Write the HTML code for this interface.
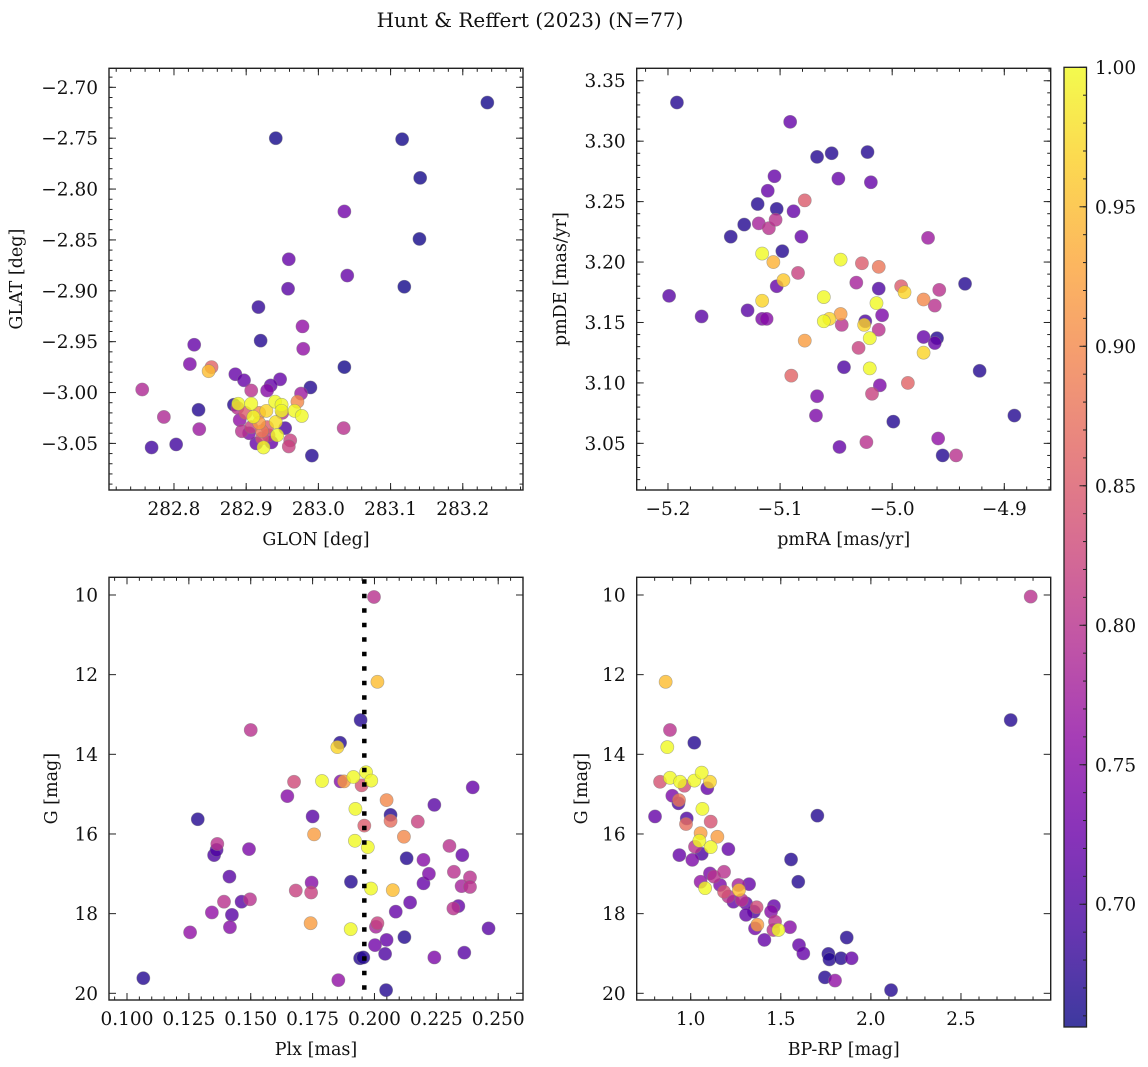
<!DOCTYPE html>
<html><head><meta charset="utf-8"><style>
html,body{margin:0;padding:0;background:#fff;}
svg{display:block;font-family:"DejaVu Serif","Liberation Serif",serif;}
</style></head><body>
<svg id="fig" width="1148" height="1067" viewBox="0 0 1148 1067" xmlns="http://www.w3.org/2000/svg">
<defs>
<linearGradient id="cbgrad" x1="0" y1="1" x2="0" y2="0">
<stop offset="0" stop-color="#0d0887"/><stop offset="0.1" stop-color="#41049d"/><stop offset="0.2" stop-color="#6a00a8"/><stop offset="0.3" stop-color="#8f0da4"/><stop offset="0.4" stop-color="#b12a90"/><stop offset="0.5" stop-color="#cc4778"/><stop offset="0.6" stop-color="#e16462"/><stop offset="0.7" stop-color="#f2844b"/><stop offset="0.8" stop-color="#fca636"/><stop offset="0.9" stop-color="#fcce25"/><stop offset="1" stop-color="#f0f921"/>
</linearGradient>
</defs>
<text x="530" y="27" font-size="20" text-anchor="middle" fill="#111">Hunt &amp; Reffert (2023) (N=77)</text>
</svg>
<script>
// ---- Panel 1: GLON vs GLAT ----
const p1Glon=[283.234,282.941,283.116,283.141,283.036,283.140,282.959,283.040,283.119,282.958,282.917,282.920,282.978,282.979,282.828,282.822,282.852,282.848,283.036,282.756,282.834,282.786,282.835,282.769,282.803,283.035,282.991,282.989,282.885,282.897,282.947,282.934,282.907,282.929,282.976,282.971,282.883,282.889,282.907,282.940,282.949,282.949,282.928,282.967,282.977,282.910,282.888,282.891,282.918,282.941,282.907,282.954,282.922,282.904,282.943,282.961,282.959,282.924,282.914,282.935,282.922,282.931,282.899,282.918,282.929,282.950,282.894];
const p1Glat=[-2.715,-2.750,-2.751,-2.789,-2.822,-2.849,-2.869,-2.885,-2.896,-2.898,-2.916,-2.949,-2.935,-2.957,-2.953,-2.972,-2.975,-2.979,-2.975,-2.997,-3.017,-3.024,-3.036,-3.054,-3.051,-3.035,-3.062,-2.995,-2.982,-2.988,-2.987,-2.993,-2.998,-2.998,-3.001,-3.009,-3.012,-3.011,-3.011,-3.009,-3.012,-3.018,-3.018,-3.018,-3.023,-3.024,-3.015,-3.027,-3.030,-3.029,-3.034,-3.035,-3.038,-3.040,-3.042,-3.047,-3.053,-3.054,-3.050,-3.049,-3.045,-3.042,-3.020,-3.020,-3.034,-3.020,-3.038];
const p1Prob=[0.66,0.66,0.66,0.66,0.73,0.66,0.72,0.72,0.66,0.71,0.68,0.67,0.76,0.76,0.72,0.74,0.86,0.95,0.66,0.79,0.67,0.79,0.77,0.69,0.69,0.80,0.67,0.67,0.72,0.72,0.72,0.72,0.80,0.75,0.77,0.90,0.67,1.0,1.0,1.0,1.0,1.0,0.97,1.0,1.0,1.0,0.80,0.76,0.92,0.98,0.82,0.70,0.88,0.74,1.0,0.82,0.82,1.0,0.72,0.72,0.84,0.80,0.85,0.90,0.85,0.80,0.80];
const p1XTicks=[282.8,282.9,283.0,283.1,283.2];
const p1XTickLabels=["282.8","282.9","283.0","283.1","283.2"];
const p1YTicks=[-2.70,-2.75,-2.80,-2.85,-2.90,-2.95,-3.00,-3.05];
const p1YTickLabels=["−2.70","−2.75","−2.80","−2.85","−2.90","−2.95","−3.00","−3.05"];

// ---- Panel 2: pmRA vs pmDE ----
const p2PmRA=[-5.192,-5.091,-5.067,-5.054,-5.022,-5.048,-5.019,-5.105,-5.111,-5.120,-5.103,-5.088,-5.078,-5.132,-5.144,-5.119,-5.110,-5.104,-5.081,-4.968,-5.098,-5.116,-5.106,-5.046,-5.027,-5.012,-5.084,-5.097,-5.103,-5.032,-5.012,-4.992,-4.989,-4.958,-4.935,-5.199,-5.170,-5.129,-5.116,-5.116,-5.112,-5.061,-5.061,-5.056,-5.046,-5.045,-5.014,-5.009,-5.024,-5.025,-5.012,-5.020,-4.972,-4.962,-4.972,-4.962,-4.960,-4.972,-5.078,-5.030,-5.043,-5.020,-4.922,-5.090,-4.986,-5.011,-5.018,-5.067,-5.068,-4.999,-4.891,-5.023,-5.047,-4.959,-4.955,-4.943];
const p2PmDE=[3.332,3.316,3.287,3.290,3.291,3.269,3.266,3.271,3.259,3.248,3.244,3.242,3.251,3.231,3.221,3.232,3.228,3.235,3.221,3.220,3.209,3.207,3.200,3.202,3.199,3.196,3.191,3.185,3.180,3.183,3.178,3.180,3.175,3.177,3.182,3.172,3.155,3.160,3.168,3.153,3.153,3.171,3.151,3.153,3.157,3.148,3.166,3.156,3.151,3.148,3.144,3.137,3.169,3.164,3.138,3.133,3.137,3.125,3.135,3.129,3.113,3.112,3.110,3.106,3.100,3.098,3.091,3.089,3.073,3.068,3.073,3.051,3.047,3.054,3.040,3.040];
const p2Prob=[0.67,0.72,0.67,0.67,0.67,0.72,0.72,0.72,0.72,0.67,0.67,0.72,0.85,0.67,0.67,0.78,0.80,0.80,0.72,0.77,0.67,1.0,0.94,1.0,0.85,0.88,0.82,0.96,0.72,0.78,0.70,0.85,0.97,0.80,0.67,0.71,0.71,0.71,0.97,0.74,0.75,1.0,1.0,0.97,0.92,0.80,1.0,0.74,0.70,0.97,0.80,1.0,0.90,0.80,0.72,0.72,0.67,0.97,0.92,0.82,0.70,1.0,0.67,0.86,0.86,0.74,0.82,0.74,0.74,0.67,0.67,0.80,0.72,0.76,0.67,0.80];
const p2XTicks=[-5.2,-5.1,-5.0,-4.9];
const p2XTickLabels=["−5.2","−5.1","−5.0","−4.9"];
const p2YTicks=[3.35,3.30,3.25,3.20,3.15,3.10,3.05];
const p2YTickLabels=["3.35","3.30","3.25","3.20","3.15","3.10","3.05"];

// ---- Panel 3: Plx vs G ----
const p3Plx=[0.1066,0.1255,0.1286,0.1352,0.1362,0.1365,0.1414,0.1343,0.1392,0.1424,0.1416,0.1463,0.1497,0.1493,0.1500,0.1648,0.1675,0.1682,0.1744,0.1746,0.1750,0.1756,0.1742,0.1788,0.1850,0.1861,0.1854,0.1863,0.1877,0.1905,0.1904,0.1915,0.1923,0.1921,0.1944,0.1948,0.1959,0.1966,0.1973,0.1987,0.1986,0.1998,0.2012,0.1942,0.1955,0.2002,0.2006,0.2012,0.2043,0.2047,0.2049,0.2049,0.2065,0.2065,0.2074,0.2086,0.2119,0.2121,0.2130,0.2144,0.2175,0.2198,0.2198,0.2220,0.2242,0.2242,0.2303,0.2321,0.2319,0.2339,0.2355,0.2352,0.2363,0.2386,0.2386,0.2397,0.2461];
const p3G=[19.62,18.47,15.63,16.53,16.40,16.25,17.07,17.97,17.70,18.03,18.34,17.70,17.64,16.38,13.39,15.05,14.69,17.42,17.47,17.22,15.56,16.01,18.24,14.67,13.82,13.71,19.67,14.68,14.68,17.20,18.39,14.57,15.37,16.17,13.14,14.78,15.79,14.45,16.33,14.66,17.37,10.05,12.18,19.12,19.10,18.79,18.33,18.24,19.01,19.92,18.66,15.15,15.52,15.67,17.41,17.95,16.07,18.59,16.61,17.72,15.69,16.65,17.24,17.00,15.27,19.10,16.30,16.95,17.87,17.81,16.53,17.31,18.98,17.09,17.33,14.83,18.37];
const p3Prob=[0.67,0.76,0.67,0.70,0.70,0.80,0.71,0.76,0.80,0.71,0.75,0.71,0.80,0.74,0.80,0.75,0.83,0.82,0.82,0.75,0.71,0.92,0.92,1.0,0.97,0.67,0.76,0.75,0.92,0.67,1.0,1.0,1.0,1.0,0.67,0.84,0.85,1.0,1.0,1.0,1.0,0.80,0.95,0.67,0.67,0.73,0.78,0.82,0.70,0.67,0.72,0.90,0.67,0.87,0.95,0.72,0.90,0.67,0.67,0.72,0.82,0.75,0.72,0.74,0.71,0.74,0.80,0.80,0.80,0.72,0.72,0.78,0.71,0.80,0.80,0.72,0.71];
const p3MeanPlx=[0.1959];
const p3XTicks=[0.100,0.125,0.150,0.175,0.200,0.225,0.250];
const p3XTickLabels=["0.100","0.125","0.150","0.175","0.200","0.225","0.250"];
const gTicks=[10,12,14,16,18,20];
const gTickLabels=["10","12","14","16","18","20"];

// ---- Panel 4: BP-RP vs G ----
const p4BpRp=[2.887,2.776,0.861,0.885,0.870,1.020,0.830,0.885,0.941,0.965,1.020,1.061,1.107,1.092,0.898,0.932,0.935,0.802,0.978,0.974,1.065,1.111,1.055,1.148,1.048,1.111,1.024,1.061,0.937,1.009,1.209,1.557,1.703,1.597,1.055,1.080,1.107,1.129,1.185,1.163,1.185,1.209,1.237,1.265,1.268,1.283,1.307,1.324,1.307,1.351,1.366,1.357,1.370,1.409,1.446,1.462,1.468,1.459,1.487,1.551,1.601,1.625,1.764,1.770,1.834,1.893,1.866,1.745,1.801,2.112];
const p4G=[10.04,13.14,12.18,13.39,13.82,13.71,14.69,14.59,14.69,14.79,14.66,14.46,14.69,14.85,15.04,15.23,15.15,15.56,15.61,15.75,15.37,15.69,15.98,16.07,16.17,16.33,16.32,16.50,16.53,16.65,16.38,16.64,15.54,17.20,17.20,17.36,16.99,17.07,16.95,17.28,17.45,17.57,17.70,17.28,17.41,17.66,17.74,17.26,18.03,17.95,17.84,18.37,18.28,18.66,17.95,17.81,18.20,18.41,18.41,18.34,18.79,19.00,19.01,19.15,19.12,19.12,18.60,19.60,19.68,19.92];
const p4Prob=[0.80,0.67,0.95,0.80,1.0,0.67,0.84,1.0,1.0,0.83,1.0,1.0,0.97,0.72,0.74,0.70,0.88,0.72,0.70,0.87,1.0,0.84,0.92,0.92,1.0,1.0,0.80,0.70,0.72,0.74,0.72,0.67,0.67,0.67,0.76,1.0,0.74,0.80,0.80,0.74,0.84,0.80,0.72,0.78,0.95,0.80,0.72,0.72,0.72,0.70,0.83,0.73,0.92,0.72,0.75,0.72,0.80,0.80,1.0,0.75,0.72,0.72,0.67,0.67,0.67,0.72,0.67,0.67,0.76,0.67];
const p4XTicks=[1.0,1.5,2.0,2.5];
const p4XTickLabels=["1.0","1.5","2.0","2.5"];

// ---- Colorbar ----
const cbTicks=[0.70,0.75,0.80,0.85,0.90,0.95,1.00];
const cbTickLabels=["0.70","0.75","0.80","0.85","0.90","0.95","1.00"];
const cbRange=[0.656,1.0];

const NS="http://www.w3.org/2000/svg";
const svg=document.getElementById('fig');
function mk(tag,attrs,parent){const e=document.createElementNS(NS,tag);for(const k in attrs)e.setAttribute(k,attrs[k]);(parent||svg).appendChild(e);return e;}

const stops=[[0,[13,8,135]],[0.1,[65,4,157]],[0.2,[106,0,168]],[0.3,[143,13,164]],[0.4,[177,42,144]],[0.5,[204,71,120]],[0.6,[225,100,98]],[0.7,[242,132,75]],[0.8,[252,166,54]],[0.9,[252,206,37]],[1,[240,249,33]]];
function plasma(t){t=Math.max(0,Math.min(1,t));for(let i=1;i<stops.length;i++){if(t<=stops[i][0]){const a=stops[i-1],b=stops[i];const f=(t-a[0])/(b[0]-a[0]);const c=a[1].map((v,j)=>Math.round(v+(b[1][j]-v)*f));return 'rgb('+c.join(',')+')';}}return 'rgb(240,249,33)';}

const TF=18.5;
function panel(o){
  const g=mk('g',{});
  
  
  const sx=v=>o.x0+(v-o.xmin)/(o.xmax-o.xmin)*(o.x1-o.x0);
  const sy=v=>o.y1-(v-o.ymin)/(o.ymax-o.ymin)*(o.y1-o.y0);
  const idx=o.xs.map((_,i)=>i).sort((a,b)=>o.ps[a]-o.ps[b]);
  const pg=mk('g',{},g);
  
  
  idx.forEach(i=>{
    const c=mk('circle',{cx:sx(o.xs[i]),cy:sy(o.ys[i]),r:6.6,fill:plasma((o.ps[i]-cbRange[0])/(cbRange[1]-cbRange[0])),'fill-opacity':0.8,stroke:'#808080','stroke-opacity':0.6,'stroke-width':0.6},pg);
    
    
  });
  if(o.vline){
    const l=mk('line',{x1:sx(o.vline),x2:sx(o.vline),y1:o.y0+2,y2:o.y1,stroke:'#000','stroke-width':4.5,'stroke-dasharray':'4.5 10'},g);
    
    
  }
  const fr=mk('rect',{x:o.x0,y:o.y0,width:o.x1-o.x0,height:o.y1-o.y0,fill:'none',stroke:'#222','stroke-width':1.4},g);
  
  
  const tk=mk('g',{stroke:'#222','stroke-width':1},g);
  for(let v=Math.ceil(o.xmin/o.xminor)*o.xminor;v<=o.xmax;v+=o.xminor){const X=sx(v);mk('line',{x1:X,x2:X,y1:o.y1,y2:o.y1-3.5},tk);mk('line',{x1:X,x2:X,y1:o.y0,y2:o.y0+3.5},tk);}
  for(let v=Math.ceil(o.ymin/o.yminor)*o.yminor;v<=o.ymax;v+=o.yminor){const Y=sy(v);mk('line',{x1:o.x0,x2:o.x0+3.5,y1:Y,y2:Y},tk);mk('line',{x1:o.x1,x2:o.x1-3.5,y1:Y,y2:Y},tk);}
  o.xt.forEach((v,i)=>{const X=sx(v);mk('line',{x1:X,x2:X,y1:o.y1,y2:o.y1-7},tk);mk('line',{x1:X,x2:X,y1:o.y0,y2:o.y0+7},tk);
    const t=mk('text',{x:X,y:o.y1+25,'font-size':TF,'text-anchor':'middle',fill:'#111'},g);t.textContent=o.xl[i];
    
    });
  o.yt.forEach((v,i)=>{const Y=sy(v);mk('line',{x1:o.x0,x2:o.x0+7,y1:Y,y2:Y},tk);mk('line',{x1:o.x1,x2:o.x1-7,y1:Y,y2:Y},tk);
    const t=mk('text',{x:o.x0-11,y:Y+6.5,'font-size':TF,'text-anchor':'end',fill:'#111'},g);t.textContent=o.yl[i];
    
    });
  const xt=mk('text',{x:(o.x0+o.x1)/2,y:o.y1+55,'font-size':17.5,'text-anchor':'middle',fill:'#111'},g);xt.textContent=o.xlabel;
  
  
  const yt=mk('text',{x:0,y:0,'font-size':17.5,'text-anchor':'middle',fill:'#111',transform:'translate('+o.ylx+','+(o.y0+o.y1)/2+') rotate(-90)'},g);yt.textContent=o.ylabel;
  
  
}

panel({name:'glon-glat-panel',x0:109,x1:523,y0:68.3,y1:490,xmin:282.710,xmax:283.2834,ymin:-3.0958,ymax:-2.6813,xs:p1Glon,ys:p1Glat,ps:p1Prob,xt:p1XTicks,xl:p1XTickLabels,yt:p1YTicks,yl:p1YTickLabels,xminor:0.02,yminor:0.01,xlabel:'GLON [deg]',ylabel:'GLAT [deg]',ylx:22});
panel({name:'pm-panel',x0:636.7,x1:1050.7,y0:68.3,y1:490,xmin:-5.2279,xmax:-4.8586,ymin:3.0114,ymax:3.3603,xs:p2PmRA,ys:p2PmDE,ps:p2Prob,xt:p2XTicks,xl:p2XTickLabels,yt:p2YTicks,yl:p2YTickLabels,xminor:0.02,yminor:0.01,xlabel:'pmRA [mas/yr]',ylabel:'pmDE [mas/yr]',ylx:566});
panel({name:'plx-g-panel',x0:109,x1:523,y0:577.3,y1:1000,xmin:0.09273,xmax:0.26002,ymin:20.168,ymax:9.556,xs:p3Plx,ys:p3G,ps:p3Prob,xt:p3XTicks,xl:p3XTickLabels,yt:gTicks,yl:gTickLabels,xminor:0.005,yminor:0.5,xlabel:'Plx [mas]',ylabel:'G [mag]',ylx:57,vline:p3MeanPlx[0]});
panel({name:'cmd-panel',x0:636.7,x1:1050.7,y0:577.3,y1:1000,xmin:0.7003,xmax:2.998,ymin:20.168,ymax:9.556,xs:p4BpRp,ys:p4G,ps:p4Prob,xt:p4XTicks,xl:p4XTickLabels,yt:gTicks,yl:gTickLabels,xminor:0.1,yminor:0.5,xlabel:'BP-RP [mag]',ylabel:'G [mag]',ylx:587});

(function(){
  const x0=1064,x1=1086.5,y0=67.3,y1=1027;
  const cg=mk('g',{});
  
  
  mk('rect',{x:x0,y:y0,width:x1-x0,height:y1-y0,fill:'url(#cbgrad)','fill-opacity':0.8},cg);
  mk('rect',{x:x0,y:y0,width:x1-x0,height:y1-y0,fill:'none',stroke:'#222','stroke-width':1.3},cg);
  const sy=v=>y1-(v-cbRange[0])/(cbRange[1]-cbRange[0])*(y1-y0);
  for(let v=0.66;v<=1.0001;v+=0.01){const Y=sy(v);mk('line',{x1:x1,x2:x1-3.5,y1:Y,y2:Y,stroke:'#222','stroke-width':1},cg);}
  cbTicks.forEach((v,i)=>{const Y=sy(v);mk('line',{x1:x1,x2:x1-7,y1:Y,y2:Y,stroke:'#222','stroke-width':1},cg);
    const t=mk('text',{x:1095,y:Y+6.5,'font-size':TF,fill:'#111'},cg);t.textContent=cbTickLabels[i];
    
    });
})();
</script>
</body></html>
